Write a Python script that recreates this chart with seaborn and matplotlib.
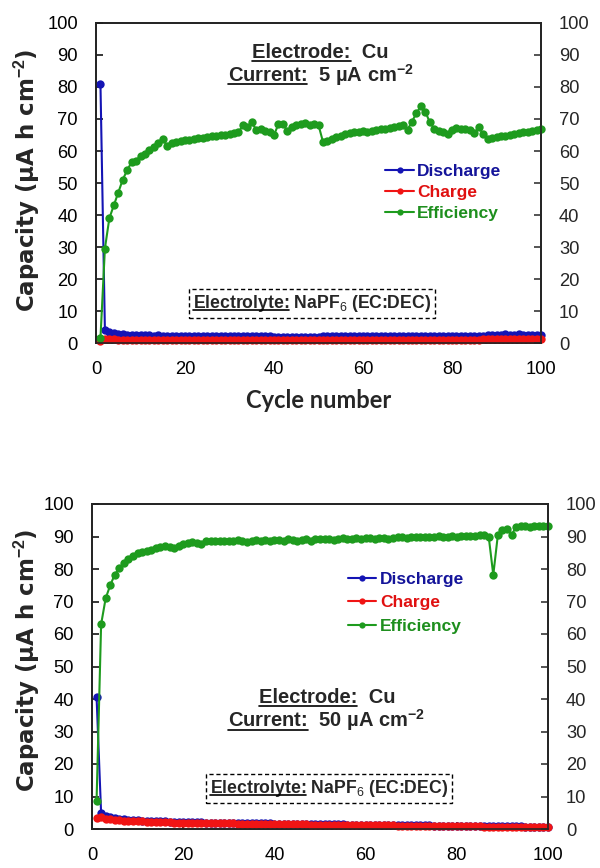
import numpy as np
import pandas as pd
import matplotlib
matplotlib.use("Agg")
import matplotlib.pyplot as plt
from matplotlib.lines import Line2D
import seaborn as sns

# ---------------- data ----------------
cycles = list(range(1, 101))

top_discharge = [81.0, 4.2, 3.4, 3.0, 2.8, 2.7, 2.6, 2.5, 2.5, 2.4,
                 2.4, 2.4, 2.3, 2.4, 2.3, 2.3, 2.3, 2.2, 2.3, 2.2,
                 2.2, 2.3, 2.2, 2.2, 2.2, 2.3, 2.2, 2.2, 2.1, 2.2,
                 2.2, 2.1, 2.2, 2.1, 2.1, 2.2, 2.1, 2.1, 2.1, 2.0,
                 2.0, 1.9, 2.0, 1.9, 1.8, 1.9, 1.9, 1.8, 1.9, 2.0,
                 2.1, 2.1, 2.1, 2.2, 2.1, 2.1, 2.2, 2.1, 2.1, 2.2,
                 2.2, 2.1, 2.2, 2.2, 2.1, 2.2, 2.2, 2.2, 2.1, 2.2,
                 2.2, 2.2, 2.3, 2.2, 2.2, 2.2, 2.1, 2.2, 2.2, 2.1,
                 2.2, 2.2, 2.2, 2.1, 2.2, 2.2, 2.3, 2.4, 2.5, 2.6,
                 2.6, 2.7, 2.6, 2.6, 2.7, 2.6, 2.5, 2.4, 2.4, 2.4]

top_charge = [0.5, 1.2, 1.1, 1.1, 1.0, 1.0, 1.0, 1.0, 1.0, 1.0,
              1.0, 1.0, 1.0, 1.0, 1.0, 1.0, 1.0, 1.0, 1.0, 1.0,
              1.0, 1.0, 1.0, 1.0, 1.0, 1.0, 1.0, 1.0, 1.0, 1.0,
              1.0, 1.0, 1.0, 1.0, 1.0, 1.0, 1.0, 1.0, 1.0, 0.9,
              0.9, 0.8, 0.8, 0.8, 0.8, 0.8, 0.8, 0.8, 0.8, 0.9,
              0.9, 0.9, 1.0, 1.0, 1.0, 1.0, 1.0, 1.0, 1.0, 1.0,
              1.0, 1.0, 1.0, 1.0, 1.0, 1.0, 1.0, 1.0, 1.0, 1.0,
              1.0, 1.0, 1.0, 1.0, 1.0, 1.0, 1.0, 1.0, 1.0, 1.0,
              1.0, 1.0, 1.0, 1.0, 1.0, 1.0, 1.1, 1.2, 1.3, 1.3,
              1.3, 1.3, 1.3, 1.3, 1.3, 1.3, 1.3, 1.3, 1.3, 1.3]

top_efficiency = [1.5, 29.5, 39.0, 43.0, 47.0, 51.0, 54.0, 56.5, 57.0, 58.5,
                  59.0, 60.3, 61.3, 62.4, 63.6, 61.7, 62.5, 62.8, 63.1, 63.3,
                  63.5, 63.8, 64.0, 64.2, 64.5, 64.6, 64.8, 65.0, 65.1, 65.4,
                  65.5, 65.8, 68.0, 67.5, 69.0, 66.6, 66.8, 66.3, 66.0, 65.0,
                  68.4, 68.4, 66.3, 67.4, 68.1, 68.4, 68.8, 68.1, 68.3, 68.1,
                  62.9, 63.2, 63.8, 64.3, 64.8, 65.2, 65.5, 66.0, 65.8, 66.1,
                  66.0, 66.2, 66.5, 66.8, 67.0, 67.2, 67.5, 67.8, 68.1, 66.6,
                  69.2, 71.8, 74.0, 72.3, 69.0, 67.0, 66.3, 66.0, 65.3, 66.6,
                  67.2, 67.0, 66.8, 66.6, 65.5, 67.5, 65.3, 63.6, 64.0, 64.3,
                  64.6, 64.8, 65.0, 65.3, 65.6, 65.8, 66.0, 66.3, 66.6, 66.8]

bot_discharge = [40.7, 4.8, 3.9, 3.6, 3.4, 3.2, 3.0, 2.9, 2.8, 2.7,
                 2.6, 2.6, 2.5, 2.5, 2.4, 2.4, 2.3, 2.3, 2.2, 2.2,
                 2.2, 2.1, 2.1, 2.1, 2.0, 2.0, 2.0, 1.9, 1.9, 1.9,
                 1.9, 1.8, 1.8, 1.8, 1.8, 1.7, 1.7, 1.7, 1.7, 1.6,
                 1.6, 1.6, 1.6, 1.6, 1.5, 1.5, 1.5, 1.5, 1.5, 1.4,
                 1.4, 1.4, 1.4, 1.4, 1.4, 1.3, 1.3, 1.3, 1.3, 1.3,
                 1.3, 1.2, 1.2, 1.2, 1.2, 1.2, 1.2, 1.1, 1.1, 1.1,
                 1.1, 1.1, 1.1, 1.1, 1.0, 1.0, 1.0, 1.0, 1.0, 1.0,
                 1.0, 0.9, 0.9, 0.9, 0.9, 0.9, 0.9, 0.9, 0.8, 0.8,
                 0.8, 0.8, 0.8, 0.8, 0.7, 0.7, 0.7, 0.7, 0.7, 0.7]

bot_charge = [3.4, 3.6, 3.2, 3.0, 2.8, 2.7, 2.6, 2.5, 2.5, 2.4,
              2.4, 2.3, 2.3, 2.2, 2.2, 2.1, 2.1, 2.0, 2.0, 1.9,
              1.9, 1.9, 1.8, 1.8, 1.8, 1.8, 1.7, 1.7, 1.7, 1.7,
              1.7, 1.6, 1.6, 1.6, 1.6, 1.6, 1.5, 1.5, 1.5, 1.5,
              1.5, 1.5, 1.4, 1.4, 1.4, 1.4, 1.4, 1.3, 1.3, 1.3,
              1.3, 1.3, 1.3, 1.2, 1.2, 1.2, 1.2, 1.2, 1.2, 1.2,
              1.1, 1.1, 1.1, 1.1, 1.1, 1.1, 1.0, 1.0, 1.0, 1.0,
              1.0, 1.0, 1.0, 0.9, 0.9, 0.9, 0.9, 0.9, 0.9, 0.9,
              0.8, 0.8, 0.8, 0.8, 0.8, 0.7, 0.7, 0.7, 0.7, 0.7,
              0.6, 0.6, 0.6, 0.6, 0.6, 0.6, 0.6, 0.6, 0.6, 0.6]

bot_efficiency = [8.6, 63.0, 71.0, 75.0, 78.3, 80.2, 81.7, 83.0, 84.0, 84.8,
                  85.2, 85.6, 86.0, 86.4, 86.7, 87.0, 86.8, 86.4, 87.2, 87.7,
                  88.0, 88.2, 88.1, 87.8, 88.6, 88.7, 88.5, 88.7, 88.6, 88.7,
                  88.5, 88.8, 88.7, 88.4, 88.6, 88.8, 88.7, 88.9, 88.6, 89.0,
                  88.8, 88.5, 89.1, 88.9, 88.7, 89.0, 89.1, 88.6, 89.2, 89.2,
                  89.1, 89.3, 89.0, 89.3, 89.4, 89.2, 89.1, 89.4, 89.3, 89.4,
                  89.5, 89.3, 89.6, 89.5, 89.2, 89.6, 89.7, 89.8, 89.6, 89.9,
                  89.8, 90.0, 89.9, 89.8, 90.0, 90.1, 89.9, 90.0, 90.1, 90.0,
                  90.2, 90.1, 90.3, 90.2, 90.4, 90.4, 89.9, 78.2, 90.4, 92.0,
                  92.3, 90.4, 93.0, 93.1, 93.2, 93.0, 93.2, 93.3, 93.1, 93.2]

series_names = ["Discharge", "Charge", "Efficiency"]
series_colors = ["#1414b4", "#f01414", "#1e9b1e"]
label_colors = ["#14149a", "#e01010", "#1e8f1e"]
x_ticks = [0, 20, 40, 60, 80, 100]
y_ticks = [0, 10, 20, 30, 40, 50, 60, 70, 80, 90, 100]

# ---------------- style ----------------
sns.set_style("ticks")
plt.rcParams["font.family"] = ["Liberation Sans", "DejaVu Sans"]
plt.rcParams["mathtext.fontset"] = "custom"
plt.rcParams["mathtext.rm"] = "Liberation Sans"
plt.rcParams["mathtext.bf"] = "Liberation Sans:bold"
plt.rcParams["mathtext.it"] = "Liberation Sans:italic"

fig = plt.figure(figsize=(6, 8.68), dpi=100)
W, H = 600, 868


def px_axes(left, top, right, bottom):
    return fig.add_axes([left / W, 1 - bottom / H, (right - left) / W, (bottom - top) / H])


ax_top = px_axes(96, 23, 541, 343)
ax_bot = px_axes(92, 504, 548, 829)

TICK_FS = 13.2
YLABEL = r"Capacity (µA h cm$^{\mathbf{-2}}$)"


def draw_panel(ax, dis, chg, eff, ylab_xy):
    df = pd.DataFrame({"Cycle": cycles, "Discharge": dis, "Charge": chg, "Efficiency": eff})
    for name, col in zip(series_names, series_colors):
        sns.lineplot(data=df, x="Cycle", y=name, ax=ax, color=col, marker="o",
                     markersize=6, markeredgewidth=0, linewidth=1.5, label=name,
                     clip_on=False, zorder=3)
    ax.set_xlim(0, 100)
    ax.set_ylim(0, 100)
    ax.set_xticks(x_ticks)
    ax.set_yticks(y_ticks)
    ax.set_xlabel("")
    ax.set_ylabel(YLABEL, fontsize=16.5, fontweight="bold", family="DejaVu Sans")
    ax.yaxis.set_label_coords(*ylab_xy)
    ax.tick_params(axis="both", direction="in", length=5, width=1.1,
                   labelsize=TICK_FS, pad=13, colors="black")
    for s in ax.spines.values():
        s.set_linewidth(1.2)
        s.set_color("black")
        s.set_visible(True)
    ax2 = ax.twinx()
    ax2.set_ylim(0, 100)
    ax2.set_yticks(y_ticks)
    ax2.tick_params(axis="y", direction="in", length=5, width=1.1,
                    labelsize=TICK_FS, pad=13)
    for s in ax2.spines.values():
        s.set_linewidth(1.2)
    return ax2


draw_panel(ax_top, top_discharge, top_charge, top_efficiency, (-0.122, 0.51))
draw_panel(ax_bot, bot_discharge, bot_charge, bot_efficiency, (-0.110, 0.52))

ax_top.set_xlabel("Cycle number", fontsize=17, fontweight="bold",
                  family="Lato", labelpad=8)


def make_legend(ax, anchor, spacing):
    handles, labels = ax.get_legend_handles_labels()
    leg = ax.legend(handles, labels, loc="upper left", bbox_to_anchor=anchor,
                    frameon=False, borderpad=0, borderaxespad=0,
                    handlelength=1.65, handletextpad=0.2, labelspacing=spacing,
                    prop={"weight": "bold", "size": 12.5},
                    labelcolor=label_colors)
    for h in leg.legend_handles:
        h.set_markersize(4.5)
        h.set_linewidth(1.5)
    return leg


make_legend(ax_top, (0.65, 0.561), 0.35)
make_legend(ax_bot, (0.561, 0.792), 0.49)

# ---------------- annotations ----------------
fig.canvas.draw()
renderer = fig.canvas.get_renderer()


def underlined(ax, x, y, prefix, rest, fs, boxed=False):
    kw = dict(fontsize=fs, fontweight="bold", transform=ax.transData)
    t = ax.text(x, y, prefix + rest, ha="center", va="baseline", zorder=5, **kw)
    if boxed:
        t.set_bbox(dict(boxstyle="square,pad=0.22", facecolor="white",
                        edgecolor="black", linestyle=(0, (3, 2)), linewidth=1.0))
    fig.canvas.draw()
    bb = t.get_window_extent(renderer)
    tmp = ax.text(x, y, prefix, ha="left", va="baseline", **kw)
    pb = tmp.get_window_extent(renderer)
    tmp.remove()
    base_y = ax.transData.transform((x, y))[1]
    uy = base_y - fs * 100 / 72 * 0.12
    line = Line2D([bb.x0, bb.x0 + pb.width], [uy, uy], transform=None,
                  color="black", linewidth=1.2, zorder=6)
    fig.add_artist(line)


# top panel (x positions as cycle numbers, y in capacity units)
underlined(ax_top, 50.5, 89.0, "Electrode:", "  Cu", 14.5)
underlined(ax_top, 50.5, 81.7, "Current:", r"  5 µA cm$^{\mathbf{-2}}$", 14.5)
underlined(ax_top, 48.5, 10.9, "Electrolyte:", r" NaPF$_{6}$ (EC:DEC)", 12.7, boxed=True)

# bottom panel
underlined(ax_bot, 51.5, 38.7, "Electrode:", "  Cu", 14.5)
underlined(ax_bot, 51.5, 31.3, "Current:", r"  50 µA cm$^{\mathbf{-2}}$", 14.5)
underlined(ax_bot, 52.0, 11.1, "Electrolyte:", r" NaPF$_{6}$ (EC:DEC)", 12.7, boxed=True)

fig.savefig("out.png", dpi=100, facecolor="white")
